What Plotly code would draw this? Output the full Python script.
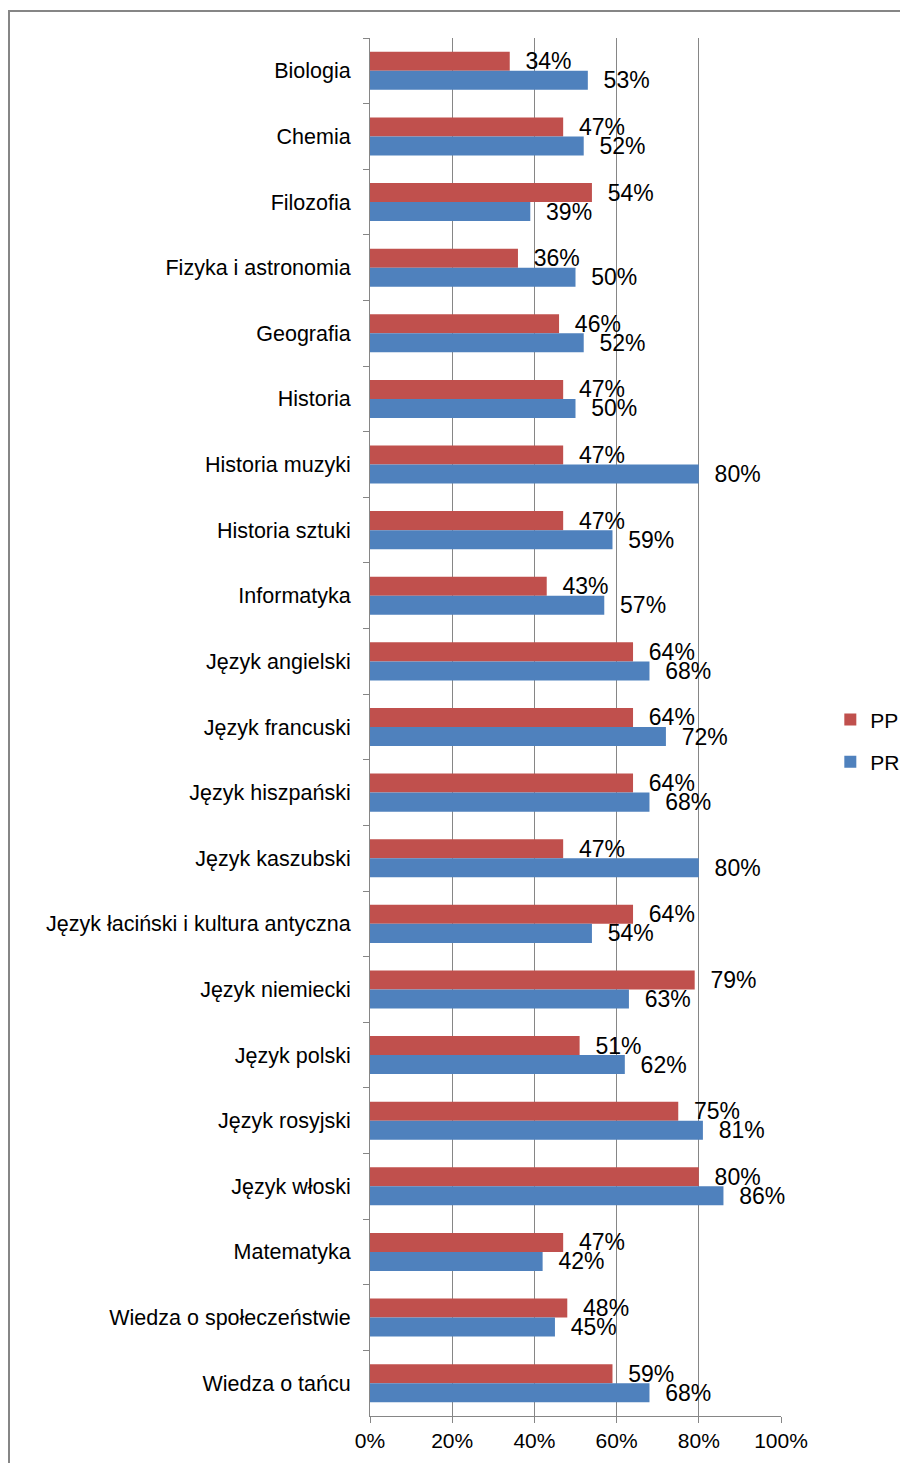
import plotly.graph_objects as go

przedmioty = [
    "Biologia", "Chemia", "Filozofia", "Fizyka i astronomia", "Geografia",
    "Historia", "Historia muzyki", "Historia sztuki", "Informatyka",
    "Język angielski", "Język francuski", "Język hiszpański", "Język kaszubski",
    "Język łaciński i kultura antyczna", "Język niemiecki", "Język polski",
    "Język rosyjski", "Język włoski", "Matematyka", "Wiedza o społeczeństwie",
    "Wiedza o tańcu",
]
pp = [34, 47, 54, 36, 46, 47, 47, 47, 43, 64, 64, 64, 47, 64, 79, 51, 75, 80, 47, 48, 59]
pr = [53, 52, 39, 50, 52, 50, 80, 59, 57, 68, 72, 68, 80, 54, 63, 62, 81, 86, 42, 45, 68]
x_ticks = [0, 20, 40, 60, 80, 100]

FONT = "Liberation Sans, Arial, sans-serif"
# strona ma 8px marginesu, wiec figura jest o 8px mniejsza
W, H = 900, 1455
ml, mr, mt, mb = 362, 127, 30, 47
SZARY = "rgb(134,134,134)"

fig = go.Figure()
for nazwa, vals, kolor in [("PP", pp, "#C0504D"), ("PR", pr, "#4F81BD")]:
    fig.add_trace(go.Bar(
        y=przedmioty, x=vals, name=nazwa, orientation="h", legendgroup=nazwa,
        marker=dict(color=kolor, line=dict(width=0)),
        text=[f"  {v}%" for v in vals], textposition="outside",
        constraintext="none", cliponaxis=False,
        outsidetextfont=dict(family=FONT, size=23, color="black"),
    ))

# ramka wykresu (w jednostkach paper)
pw = W - ml - mr
ph = H - mt - mb
fig.add_shape(
    type="rect", xref="paper", yref="paper",
    x0=(1 - ml) / pw, x1=(W + 10 - ml) / pw,
    y0=-(H + 10 - mt - ph) / ph, y1=1 + (mt - 3) / ph,
    line=dict(color=SZARY, width=2), layer="below",
)

fig.update_layout(
    width=W, height=H,
    margin=dict(l=ml, r=mr, t=mt, b=mb, autoexpand=False),
    barmode="group", bargap=0.42, bargroupgap=0,
    plot_bgcolor="white", paper_bgcolor="white",
    font=dict(family=FONT, size=21, color="black"),
    showlegend=True,
    legend=dict(x=1.12, y=0.49, xanchor="left", yanchor="middle",
                traceorder="grouped", font=dict(size=21),
                itemwidth=30, tracegroupgap=12, bgcolor="rgba(0,0,0,0)"),
    xaxis=dict(range=[0, 100], tickvals=x_ticks, ticktext=[f"{t}%" for t in x_ticks],
               showgrid=True, gridcolor=SZARY, gridwidth=1,
               showline=True, linecolor=SZARY, linewidth=1,
               ticks="outside", ticklen=6, tickcolor=SZARY,
               zeroline=False, tickfont=dict(size=21)),
    yaxis=dict(autorange="reversed", showgrid=False,
               showline=True, linecolor=SZARY, linewidth=1,
               ticks="outside", ticklen=6, tickcolor=SZARY,
               tickson="boundaries", ticklabelstandoff=14,
               tickfont=dict(size=21.5)),
)

fig.write_html("out.html")
